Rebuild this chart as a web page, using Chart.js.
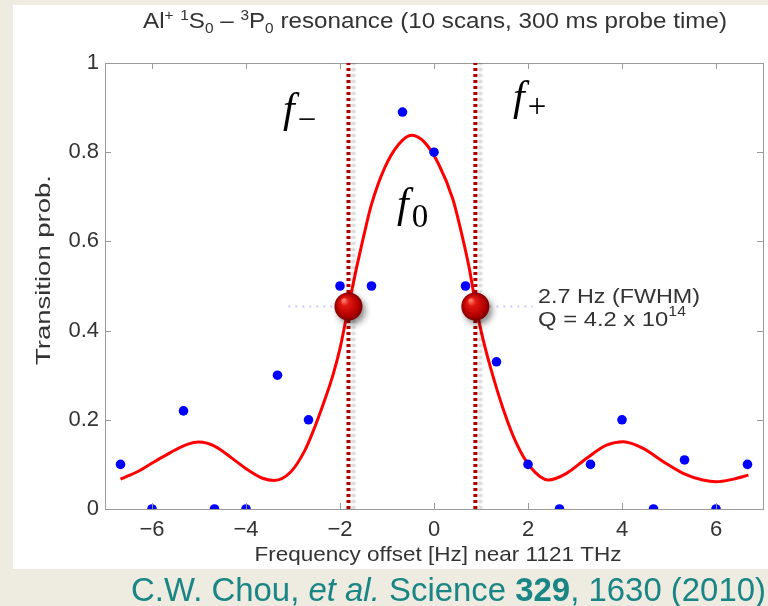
<!DOCTYPE html>
<html>
<head>
<meta charset="utf-8">
<script src="https://cdn.jsdelivr.net/npm/chart.js@4.4.1/dist/chart.umd.min.js"></script>
<style>
  html, body { margin: 0; padding: 0; background: #eeebe1; }
  #wrap { width: 768px; height: 606px; }
</style>
</head>
<body>
<div id="wrap"><canvas id="chart" width="768" height="606"></canvas></div>
<script>
// --- Data ---
const scanX = [-6.67, -6, -5.33, -4.67, -4, -3.33, -2.67, -2, -1.33, -0.67, 0, 0.67, 1.33, 2, 2.67, 3.33, 4, 4.67, 5.33, 6, 6.67];
const scanY = [0.1, 0, 0.22, 0, 0, 0.3, 0.2, 0.5, 0.5, 0.89, 0.8, 0.5, 0.33, 0.1, 0, 0.1, 0.2, 0, 0.11, 0, 0.1];

const fitX = [-6.67, -6.3, -5.95, -5.6, -5.25, -5.0, -4.65, -4.3, -3.95, -3.65, -3.4, -3.05, -2.75, -2.55, -2.35, -2.15, -2.0, -1.82, -1.65, -1.5, -1.33, -1.05, -0.75, -0.47, -0.2, 0.1, 0.4, 0.6, 0.75, 0.88, 1.0, 1.2, 1.47, 1.75, 2.05, 2.43, 2.82, 3.25, 3.67, 4.03, 4.45, 4.88, 5.3, 5.72, 6.0, 6.37, 6.69];
const fitY = [0.067, 0.084, 0.106, 0.127, 0.145, 0.150, 0.140, 0.114, 0.087, 0.069, 0.064, 0.083, 0.131, 0.18, 0.237, 0.30, 0.36, 0.454, 0.54, 0.61, 0.683, 0.765, 0.818, 0.838, 0.822, 0.773, 0.695, 0.612, 0.540, 0.462, 0.40, 0.318, 0.225, 0.148, 0.094, 0.065, 0.080, 0.114, 0.143, 0.151, 0.136, 0.106, 0.080, 0.065, 0.061, 0.067, 0.076];

// half-maximum points f- and f+
const halfX = [-1.82, 0.88];
const halfY = [0.454, 0.454];
const guideLeftX = [-3.1, -1.82];
const guideRightX = [0.88, 2.1];

const xTicks = [-6, -4, -2, 0, 2, 4, 6];
const yTicks = [0, 0.2, 0.4, 0.6, 0.8, 1];

const SANS = '"Liberation Sans", Arial, sans-serif';
const SERIF = '"Liberation Serif", "Times New Roman", serif';
const AXIS_GRAY = '#9a9a9a';
const TEXT_GRAY = '#333';

const pts = (xs, ys) => xs.map((x, i) => ({ x, y: ys[i] }));
const fmt = (v) => (v < 0 ? "\u2212" + Math.abs(v) : String(Math.round(v * 10) / 10));

// draw a run of text pieces (sup/sub/italic/bold), optionally squeezed to a width
function drawRuns(ctx, runs, x, y, o) {
  const size = o.size;
  const fam = o.family || SANS;
  const subSize = Math.round(size * (o.subScale || 0.65));
  const fontFor = (r) =>
    `${r.italic ? "italic " : ""}${r.bold ? "bold " : ""}${r.s ? subSize : size}px ${r.family || fam}`;
  let w = 0;
  const widths = runs.map((r) => {
    ctx.font = fontFor(r);
    const m = ctx.measureText(r.t).width + (r.dx || 0);
    w += m;
    return m;
  });
  const k = o.width ? o.width / w : 1;
  ctx.save();
  ctx.fillStyle = o.color || TEXT_GRAY;
  ctx.textBaseline = "alphabetic";
  ctx.textAlign = "left";
  ctx.translate(x, y);
  if (o.rotate) ctx.rotate(o.rotate);
  const start = o.align === "center" ? (-w * k) / 2 : o.align === "right" ? -w * k : 0;
  ctx.translate(start, 0);
  ctx.scale(k, 1);
  let cx = 0;
  runs.forEach((r, i) => {
    ctx.font = fontFor(r);
    const dy = r.s === "sup" ? -(o.rise || size * 0.4) : r.s === "sub" ? o.drop || size * 0.25 : 0;
    ctx.fillText(r.t, cx + (r.dx || 0), dy);
    cx += widths[i];
  });
  ctx.restore();
}

function drawBall(ctx, x, y, r) {
  ctx.save();
  ctx.shadowColor = "rgba(0,0,0,0.45)";
  ctx.shadowBlur = 6;
  ctx.shadowOffsetX = 3;
  ctx.shadowOffsetY = 4;
  const g = ctx.createRadialGradient(x - r * 0.35, y - r * 0.45, 1, x, y, r);
  g.addColorStop(0, "#ff7a6a");
  g.addColorStop(0.25, "#e01810");
  g.addColorStop(0.75, "#b50000");
  g.addColorStop(1, "#7a0000");
  ctx.fillStyle = g;
  ctx.beginPath();
  ctx.arc(x, y, r, 0, Math.PI * 2);
  ctx.fill();
  ctx.restore();
}

const decor = {
  id: "decor",
  beforeDraw(chart) {
    const ctx = chart.ctx;
    ctx.save();
    ctx.fillStyle = "#eeebe1";
    ctx.fillRect(0, 0, chart.width, chart.height);
    ctx.fillStyle = "#ffffff";
    ctx.fillRect(13, 5, chart.width - 13, 564);
    ctx.restore();
  },
  beforeDatasetDraw(chart, args) {
    const ds = chart.data.datasets[args.index];
    if (ds.shadow) {
      chart.ctx.save();
      chart.ctx.shadowColor = "rgba(0,0,0,0.18)";
      chart.ctx.shadowBlur = 2;
      chart.ctx.shadowOffsetX = 5;
    }
  },
  afterDatasetDraw(chart, args) {
    const ds = chart.data.datasets[args.index];
    if (ds.shadow) chart.ctx.restore();
  },
  afterDatasetsDraw(chart) {
    const ctx = chart.ctx;
    chart.data.datasets.forEach((ds, i) => {
      if (!ds.ball) return;
      chart.getDatasetMeta(i).data.forEach((p) => drawBall(ctx, p.x, p.y, 14));
    });
  },
  afterDraw(chart) {
    const ctx = chart.ctx;
    const xs = chart.scales.x;
    const ys = chart.scales.y;
    const a = chart.chartArea;

    // inward tick marks on all four sides
    ctx.save();
    ctx.strokeStyle = AXIS_GRAY;
    ctx.lineWidth = 1;
    ctx.beginPath();
    xTicks.forEach((v) => {
      const px = Math.round(xs.getPixelForValue(v)) + 0.5;
      ctx.moveTo(px, a.bottom);
      ctx.lineTo(px, a.bottom - 6);
      ctx.moveTo(px, a.top);
      ctx.lineTo(px, a.top + 6);
    });
    yTicks.forEach((v) => {
      const py = Math.round(ys.getPixelForValue(v)) + 0.5;
      ctx.moveTo(a.left, py);
      ctx.lineTo(a.left + 6, py);
      ctx.moveTo(a.right, py);
      ctx.lineTo(a.right - 6, py);
    });
    ctx.stroke();
    ctx.restore();

    // title
    drawRuns(
      ctx,
      [
        { t: "Al" },
        { t: "+", s: "sup" },
        { t: " " },
        { t: "1", s: "sup" },
        { t: "S" },
        { t: "0", s: "sub" },
        { t: " \u2013 " },
        { t: "3", s: "sup" },
        { t: "P" },
        { t: "0", s: "sub" },
        { t: " resonance (10 scans, 300 ms probe time)" },
      ],
      435, 28,
      { size: 22, align: "center", width: 584, rise: 8, drop: 5 }
    );

    // axis titles
    drawRuns(ctx, [{ t: "Frequency offset [Hz] near 1121 THz" }], 438, 561,
      { size: 21, align: "center", width: 367 });
    drawRuns(ctx, [{ t: "Transition prob." }], 50, 270,
      { size: 21, align: "center", width: 190, rotate: -Math.PI / 2 });

    // FWHM annotation
    drawRuns(ctx, [{ t: "2.7 Hz (FWHM)" }], 538, 303, { size: 21, width: 162 });
    drawRuns(ctx, [{ t: "Q = 4.2 x 10" }, { t: "14", s: "sup" }], 538, 326,
      { size: 21, width: 148, rise: 10 });

    // f labels
    const fOpts = { size: 42, family: SERIF, color: "#000", subScale: 0.78 };
    drawRuns(ctx, [{ t: "f", italic: true }, { t: "\u2212", s: "sub", dx: 3 }], 283, 122,
      Object.assign({}, fOpts, { drop: 8 }));
    drawRuns(ctx, [{ t: "f", italic: true }, { t: "+", s: "sub", dx: 3 }], 513, 110,
      Object.assign({}, fOpts, { drop: 7 }));
    drawRuns(ctx, [{ t: "f", italic: true }, { t: "0", s: "sub", dx: 3 }], 397, 217,
      Object.assign({}, fOpts, { drop: 10 }));

    // citation
    drawRuns(
      ctx,
      [
        { t: "C.W. Chou, " },
        { t: "et al.", italic: true },
        { t: " Science " },
        { t: "329", bold: true },
        { t: ", 1630 (2010)" },
      ],
      131, 601,
      { size: 34, color: "#1a8585", width: 635 }
    );
  },
};

const ctx = document.getElementById("chart").getContext("2d");
new Chart(ctx, {
  data: {
    datasets: [
      {
        type: "scatter",
        label: "half maximum",
        data: pts(halfX, halfY),
        pointRadius: 0,
        ball: true,
        order: 0,
      },
      {
        type: "line",
        label: "f-",
        data: pts([halfX[0], halfX[0]], [0, 1]),
        borderColor: "#b00000",
        borderWidth: 4,
        borderDash: [3, 3],
        pointRadius: 0,
        shadow: true,
        order: 1,
      },
      {
        type: "line",
        label: "f+",
        data: pts([halfX[1], halfX[1]], [0, 1]),
        borderColor: "#b00000",
        borderWidth: 4,
        borderDash: [3, 3],
        pointRadius: 0,
        shadow: true,
        order: 1,
      },
      {
        type: "scatter",
        label: "scans",
        data: pts(scanX, scanY),
        backgroundColor: "#0000ff",
        borderWidth: 0,
        pointRadius: 4.8,
        order: 2,
      },
      {
        type: "line",
        label: "fit",
        data: pts(fitX, fitY),
        borderColor: "#ff0000",
        borderWidth: 3,
        pointRadius: 0,
        cubicInterpolationMode: "monotone",
        order: 3,
      },
      {
        type: "line",
        label: "guide left",
        data: pts(guideLeftX, [halfY[0], halfY[0]]),
        borderColor: "#c9c9f5",
        borderWidth: 2,
        borderDash: [2, 5],
        pointRadius: 0,
        order: 4,
      },
      {
        type: "line",
        label: "guide right",
        data: pts(guideRightX, [halfY[1], halfY[1]]),
        borderColor: "#c9c9f5",
        borderWidth: 2,
        borderDash: [2, 5],
        pointRadius: 0,
        order: 4,
      },
    ],
  },
  options: {
    responsive: false,
    animation: false,
    devicePixelRatio: 1,
    layout: { padding: { left: 0, top: 63, right: 5, bottom: 57 } },
    plugins: { legend: { display: false }, tooltip: { enabled: false }, title: { display: false } },
    scales: {
      x: {
        type: "linear",
        position: "bottom",
        min: -7,
        max: 7,
        afterBuildTicks: (s) => { s.ticks = xTicks.map((v) => ({ value: v })); },
        afterFit: (s) => { s.height = 40; },
        ticks: {
          autoSkip: false,
          maxRotation: 0,
          padding: 8,
          color: TEXT_GRAY,
          font: { family: SANS, size: 22 },
          callback: (v) => fmt(v),
        },
        grid: { drawOnChartArea: false, drawTicks: false },
        border: { color: AXIS_GRAY, width: 1 },
      },
      y: {
        type: "linear",
        position: "left",
        min: 0,
        max: 1,
        afterBuildTicks: (s) => { s.ticks = yTicks.map((v) => ({ value: v })); },
        afterFit: (s) => { s.width = 105; },
        ticks: {
          padding: 6,
          color: TEXT_GRAY,
          font: { family: SANS, size: 22 },
          callback: (v) => fmt(v),
        },
        grid: { drawOnChartArea: false, drawTicks: false },
        border: { color: AXIS_GRAY, width: 1 },
      },
      xTop: {
        type: "linear",
        position: "top",
        min: -7,
        max: 7,
        afterFit: (s) => { s.height = 0; },
        ticks: { display: false },
        grid: { display: false, drawTicks: false },
        border: { color: AXIS_GRAY, width: 1 },
      },
      yRight: {
        type: "linear",
        position: "right",
        min: 0,
        max: 1,
        afterFit: (s) => { s.width = 0; },
        ticks: { display: false },
        grid: { display: false, drawTicks: false },
        border: { color: AXIS_GRAY, width: 1 },
      },
    },
  },
  plugins: [decor],
});
</script>
</body>
</html>
